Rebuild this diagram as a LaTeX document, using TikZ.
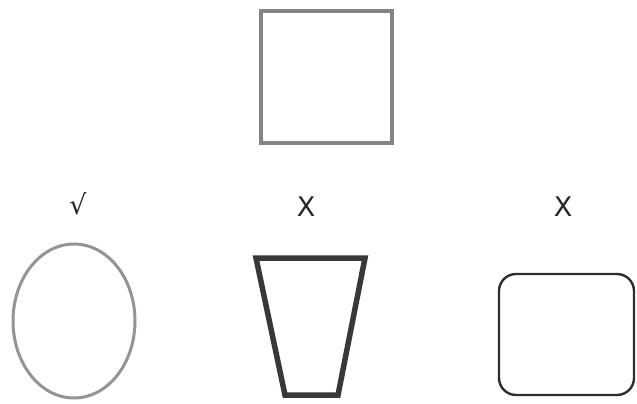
\documentclass[tikz,border=0pt]{standalone}
\usepackage{fontspec}
\setmainfont{DejaVu Sans}
\begin{document}
\begin{tikzpicture}[x=1pt,y=-1pt,
  lbl/.style={text=black!85, font=\fontsize{27}{27}\selectfont, inner sep=0pt, anchor=center},
  sq/.style={draw=black!48, line width=4pt},
  ell/.style={draw=black!42, line width=3pt},
  trap/.style={draw=black!78, line width=5.5pt, line join=miter},
  rrect/.style={draw=black!82, line width=2.4pt, rounded corners=17pt}]
\useasboundingbox (0,0) rectangle (637,404);
\draw[sq] (261,11) rectangle (392,143);
\draw[ell] (74,321) ellipse [x radius=61, y radius=77];
\draw[trap] (256,258) -- (365,258) -- (338,395) -- (285,395) -- cycle;
\draw[rrect] (499,274) rectangle (634,395);
\node[lbl] (check) at (78,204) {√};
\node[lbl] (x1) at (306,207) {X};
\node[lbl] (x2) at (563,207) {X};
\end{tikzpicture}
\end{document}
